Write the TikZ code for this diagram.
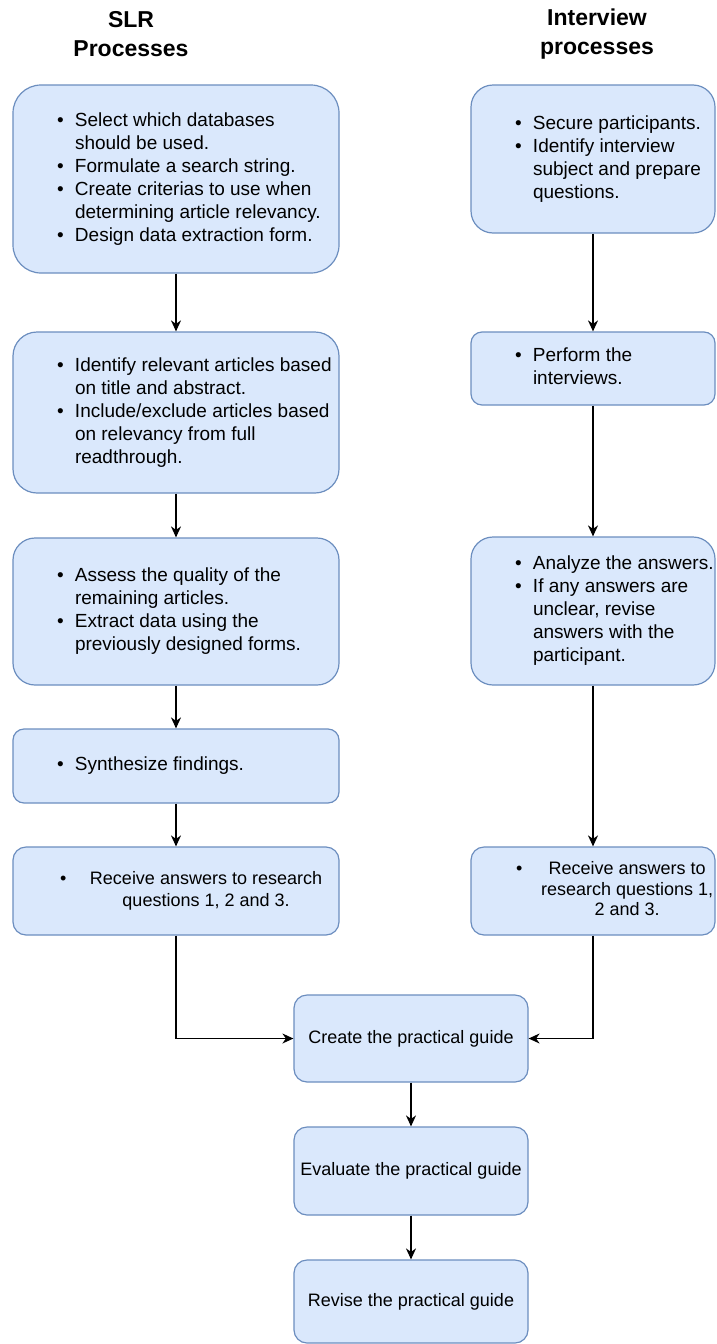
\documentclass[tikz,border=0pt]{standalone}
\usepackage{fontspec}
\setmainfont{Liberation Sans}
\usetikzlibrary{arrows.meta}
\definecolor{boxfill}{HTML}{DAE8FC}
\definecolor{boxline}{HTML}{6C8EBF}
\newcommand\blist[2]{\makebox[#1][l]{\hspace*{44pt}\begin{tabular}{@{}l@{\hspace{11.35pt}}l@{}}#2\end{tabular}}}
\tikzset{
  procbox/.style={draw=boxline, fill=boxfill, line width=1.2pt, inner sep=0pt,
    font=\fontsize{19}{23}\selectfont},
  smallfont/.style={font=\fontsize{18}{22}\selectfont},
  arr/.style={-{Stealth[length=11pt,width=10pt,inset=3.5pt]}, line width=1.3pt},
  ttl/.style={font=\bfseries\fontsize{23}{29}\selectfont, align=center, inner sep=0pt}
}
\begin{document}
\begin{tikzpicture}[x=1pt,y=-1pt]
\useasboundingbox (0,0) rectangle (716,1344);
% titles
\node[ttl] (t1) at (131,34.5) {SLR\\Processes};
\node[ttl] (t2) at (597,34.5) {Interview\\processes};
% left column
\node[procbox, rounded corners=28pt, minimum width=326pt, minimum height=188pt] (b1) at (176,179)
  {\blist{326pt}{\textbullet & Select which databases\\ & should be used.\\ \textbullet & Formulate a search string.\\ \textbullet & Create criterias to use when\\ & determining article relevancy.\\ \textbullet & Design data extraction form.}};
\node[procbox, rounded corners=24pt, minimum width=326pt, minimum height=161pt] (b2) at (176,412.5)
  {\blist{326pt}{\textbullet & Identify relevant articles based\\ & on title and abstract.\\ \textbullet & Include/exclude articles based\\ & on relevancy from full\\ & readthrough.}};
\node[procbox, rounded corners=22pt, minimum width=326pt, minimum height=147pt] (b3) at (176,611.5)
  {\blist{326pt}{\textbullet & Assess the quality of the\\ & remaining articles.\\ \textbullet & Extract data using the\\ & previously designed forms.}};
\node[procbox, rounded corners=11pt, minimum width=326pt, minimum height=74pt] (b4) at (176,766)
  {\blist{326pt}{\textbullet & Synthesize findings.}};
\node[procbox, smallfont, rounded corners=13pt, minimum width=326pt, minimum height=88pt] (b5) at (176,891)
  {\makebox[326pt][l]{\hspace*{47pt}\textbullet\hspace*{23.7pt}\begin{tabular}[t]{@{}c@{}}Receive answers to research\\questions 1, 2 and 3.\end{tabular}}};
% right column
\node[procbox, rounded corners=22pt, minimum width=244pt, minimum height=148pt] (r1) at (593,159)
  {\blist{244pt}{\textbullet & Secure participants.\\ \textbullet & Identify interview\\ & subject and prepare\\ & questions.}};
\node[procbox, rounded corners=11pt, minimum width=244pt, minimum height=73pt] (r2) at (593,368.5)
  {\blist{244pt}{\textbullet & Perform the\\ & interviews.}};
\node[procbox, rounded corners=22pt, minimum width=244pt, minimum height=148pt] (r3) at (593,611)
  {\blist{244pt}{\textbullet & Analyze the answers.\\ \textbullet & If any answers are\\ & unclear, revise\\ & answers with the\\ & participant.}};
\node[procbox, font=\fontsize{18}{20.5}\selectfont, rounded corners=13pt, minimum width=244pt, minimum height=88pt] (r4) at (593,891)
  {\makebox[244pt][l]{\hspace*{45pt}\textbullet\hspace*{18.7pt}\begin{tabular}[t]{@{}c@{}}Receive answers to\\research questions 1,\\2 and 3.\end{tabular}}};
% centre column
\node[procbox, smallfont, rounded corners=13pt, minimum width=234pt, minimum height=87pt] (c1) at (411,1038.5) {Create the practical guide};
\node[procbox, smallfont, rounded corners=13pt, minimum width=234pt, minimum height=88pt] (c2) at (411,1171) {Evaluate the practical guide};
\node[procbox, smallfont, rounded corners=13pt, minimum width=234pt, minimum height=83pt] (c3) at (411,1301.5) {Revise the practical guide};
% connectors
\draw[arr] (b1) -- (b2);
\draw[arr] (b2) -- (b3);
\draw[arr] (b3) -- (b4);
\draw[arr] (b4) -- (b5);
\draw[arr] (r1) -- (r2);
\draw[arr] (r2) -- (r3);
\draw[arr] (r3) -- (r4);
\draw[arr] (b5.south) |- (c1.west);
\draw[arr] (r4.south) |- (c1.east);
\draw[arr] (c1) -- (c2);
\draw[arr] (c2) -- (c3);
\end{tikzpicture}
\end{document}
